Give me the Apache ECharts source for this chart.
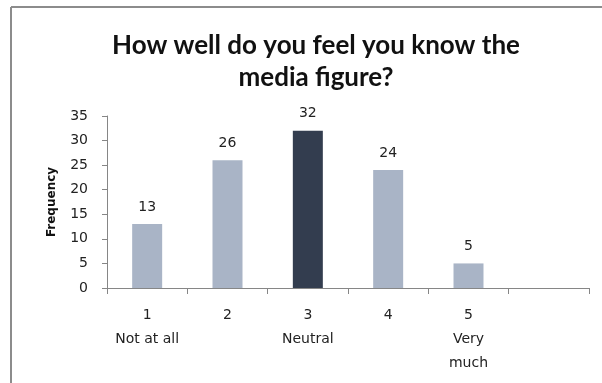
<!DOCTYPE html>
<html>
<head>
<meta charset="utf-8">
<script src="https://cdn.jsdelivr.net/npm/echarts@6/dist/echarts.min.js"></script>
<style>
html, body { margin: 0; padding: 0; background: #fff; }
#main { width: 602px; height: 383px; }
</style>
</head>
<body>
<div id="main"></div>
<script>
// ratings on the x axis, with their descriptions
var ratings = ['1', '2', '3', '4', '5', ''];
var ratingNames = ['Not at all', '', 'Neutral', '', 'Very\nmuch', ''];
// answers per rating
var frequency = [13, 26, 32, 24, 5, null];
var highlightIndex = 2;

var categories = ratings.map(function (r, i) {
	return ratingNames[i] ? r + '\n' + ratingNames[i] : r;
});

var chart = echarts.init(document.getElementById('main'));

var option = {
	animation: false,
	title: {
		text: 'How well do you feel you know the\nmedia figure?',
		left: 311,
		textAlign: 'center',
		top: 25,
		textStyle: {
			fontFamily: 'Lato',
			fontWeight: 'bold',
			fontSize: 26,
			lineHeight: 32,
			color: '#111'
		}
	},
	grid: { left: 107, right: 13, top: 116, bottom: 95 },
	xAxis: {
		type: 'category',
		data: categories,
		axisLine: { lineStyle: { color: '#868686' } },
		axisTick: { show: true, length: 6, lineStyle: { color: '#868686' } },
		axisLabel: {
			interval: 0,
			margin: 15,
			lineHeight: 24,
			fontFamily: 'DejaVu Sans',
			fontSize: 14,
			color: '#222'
		}
	},
	yAxis: {
		type: 'value',
		min: 0,
		max: 35,
		interval: 5,
		name: 'Frequency',
		nameLocation: 'middle',
		nameRotate: 90,
		nameGap: 49,
		nameTextStyle: {
			fontFamily: 'DejaVu Sans',
			fontWeight: 'bold',
			fontSize: 12,
			color: '#111'
		},
		splitLine: { show: false },
		axisLine: { show: true, lineStyle: { color: '#868686' } },
		axisTick: { show: true, length: 5, lineStyle: { color: '#868686' } },
		axisLabel: {
			margin: 19,
			fontFamily: 'DejaVu Sans',
			fontSize: 14,
			color: '#222'
		}
	},
	series: [{
		type: 'bar',
		data: frequency,
		barWidth: 30,
		itemStyle: {
			color: function (p) {
				return p.dataIndex === highlightIndex ? '#333d4f' : '#a9b4c6';
			}
		},
		label: {
			show: true,
			position: 'top',
			distance: 10,
			fontFamily: 'DejaVu Sans',
			fontSize: 14,
			color: '#222'
		}
	}],
	graphic: [
		{ type: 'line', shape: { x1: 11, y1: 7, x2: 602, y2: 7 }, style: { stroke: '#8c8c8c', lineWidth: 2 } },
		{ type: 'line', shape: { x1: 11, y1: 7, x2: 11, y2: 383 }, style: { stroke: '#8c8c8c', lineWidth: 2 } }
	]
};

chart.setOption(option);
</script>
</body>
</html>
